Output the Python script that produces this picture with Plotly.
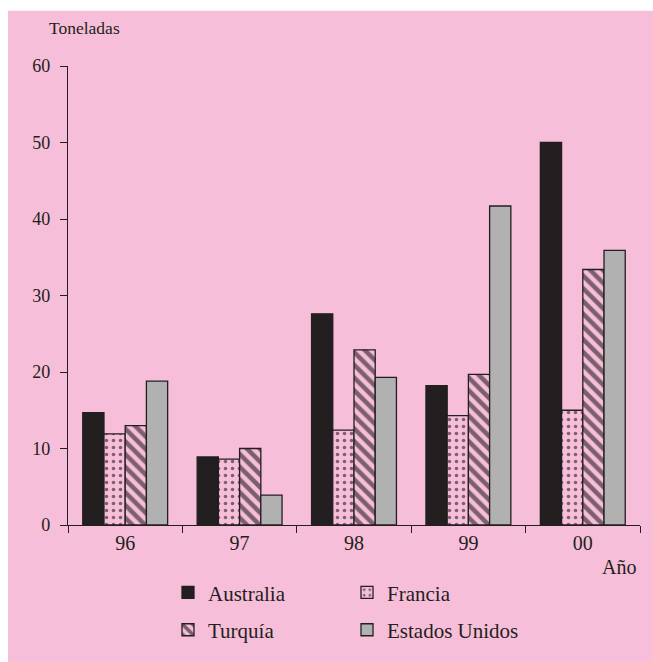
import plotly.graph_objects as go

years = ["96", "97", "98", "99", "00"]
australia = [14.7, 8.9, 27.6, 18.2, 50.0]
francia = [11.9, 8.6, 12.4, 14.3, 15.0]
turquia = [13.0, 10.0, 22.9, 19.7, 33.4]
estados_unidos = [18.8, 3.9, 19.3, 41.7, 35.9]

PINK = "#F6BED8"
DARK = "#231F20"
GRAY = "#B1B1B1"
FONT = "Liberation Serif"

W, H = 653, 662
L, R, T, B = 68, 13, 66, 130
PW, PH = W - L - R, H - T - B

def px_x(p):
    return (p - L) / PW

def px_y(p):
    return (H - B - p) / PH

fig = go.Figure()
line = dict(color=DARK, width=1.3)
fig.add_trace(go.Bar(x=years, y=australia, name="Australia",
                     marker=dict(color=DARK, line=line),
                     legend="legend", legendgroup="a"))
fig.add_trace(go.Bar(x=years, y=francia, name="Francia",
                     marker=dict(color=PINK, line=line,
                                 pattern=dict(shape=".", fgcolor="#000000", bgcolor=PINK,
                                              size=7, solidity=0.2, fillmode="overlay")),
                     legend="legend2", legendgroup="b"))
fig.add_trace(go.Bar(x=years, y=turquia, name="Turquía",
                     marker=dict(color=PINK, line=line,
                                 pattern=dict(shape="\\", fgcolor="#000000", bgcolor=PINK,
                                              size=9, solidity=0.5, fillmode="overlay")),
                     legend="legend", legendgroup="c"))
fig.add_trace(go.Bar(x=years, y=estados_unidos, name="Estados Unidos",
                     marker=dict(color=GRAY, line=line),
                     legend="legend2", legendgroup="d"))

legend_common = dict(orientation="v", traceorder="grouped", tracegroupgap=7,
                     font=dict(family=FONT, size=21, color=DARK),
                     bgcolor="rgba(0,0,0,0)", borderwidth=0,
                     xanchor="left", yanchor="top", y=px_y(580))

fig.update_layout(
    width=W, height=H,
    margin=dict(l=L, r=R, t=T, b=B, pad=0),
    paper_bgcolor="white",
    plot_bgcolor="rgba(0,0,0,0)",
    font=dict(family=FONT, size=20, color=DARK),
    barmode="group", bargap=0.258, bargroupgap=0,
    showlegend=True,
    legend=dict(x=px_x(168), **legend_common),
    legend2=dict(x=px_x(347), **legend_common),
    xaxis=dict(showline=True, linecolor=DARK, linewidth=1.3,
               ticks="outside", ticklen=7, tickwidth=1.3, tickcolor=DARK,
               tickson="boundaries", showgrid=False,
               tickfont=dict(family=FONT, size=20, color=DARK)),
    yaxis=dict(range=[0, 60], dtick=10, showline=True, linecolor=DARK, linewidth=1.3,
               ticks="outside", ticklen=7, tickwidth=1.3, tickcolor=DARK,
               showgrid=False, zeroline=False, ticklabelstandoff=6,
               tickfont=dict(family=FONT, size=18, color=DARK)),
    shapes=[dict(type="rect", xref="paper", yref="paper", layer="below",
                 x0=px_x(8), x1=px_x(W + 20), y0=px_y(H + 20), y1=px_y(10),
                 fillcolor=PINK, line=dict(width=0))],
    annotations=[
        dict(text="Toneladas", xref="paper", yref="paper", x=px_x(47), y=px_y(27),
             xanchor="left", yanchor="middle", showarrow=False,
             font=dict(family=FONT, size=17.5, color=DARK)),
        dict(text="Año", xref="paper", yref="paper", x=px_x(619), y=px_y(575),
             xanchor="center", yanchor="middle", showarrow=False,
             font=dict(family=FONT, size=20, color=DARK)),
    ],
)

fig.write_html("out.html",
               config={"displayModeBar": False},
               post_script="document.body.style.margin='0';document.body.style.overflow='hidden';")
